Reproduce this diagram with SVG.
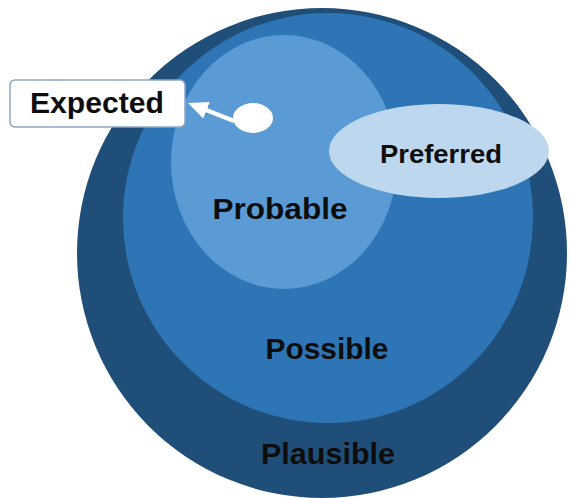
<svg xmlns="http://www.w3.org/2000/svg" width="570" height="498" viewBox="0 0 570 498">
  <style>
    .lbl { font-family: "Liberation Sans", Arial, sans-serif; font-weight: bold; fill: #0d0d0d; text-anchor: middle; }
  </style>
  <defs>
    <marker id="arrowhead" viewBox="0 0 20 18" refX="20" refY="9" markerUnits="userSpaceOnUse" markerWidth="20" markerHeight="18" orient="auto">
      <path d="M0,0 L20,9 L0,18 Z" fill="#ffffff"/>
    </marker>
  </defs>
  <rect width="570" height="498" fill="#ffffff"/>

  <g id="plausible">
    <circle cx="322" cy="253" r="245" fill="#1f4e79"/>
    <text class="lbl" x="328" y="464" font-size="29" textLength="134" lengthAdjust="spacingAndGlyphs">Plausible</text>
  </g>

  <g id="possible">
    <circle cx="328" cy="218" r="205" fill="#2e75b6"/>
    <text class="lbl" x="327" y="359" font-size="29" textLength="123" lengthAdjust="spacingAndGlyphs">Possible</text>
  </g>

  <g id="probable">
    <ellipse cx="284" cy="162" rx="113" ry="127" fill="#5b9bd5"/>
    <text class="lbl" x="280" y="219" font-size="29" textLength="135" lengthAdjust="spacingAndGlyphs">Probable</text>
  </g>

  <g id="preferred">
    <ellipse cx="439" cy="151" rx="110" ry="47" fill="#bdd7ee"/>
    <text class="lbl" x="441" y="163" font-size="26" textLength="122" lengthAdjust="spacingAndGlyphs">Preferred</text>
  </g>

  <g id="expected-dot">
    <ellipse cx="253" cy="118" rx="20" ry="15" fill="#ffffff"/>
  </g>

  <g id="expected">
    <rect x="10" y="80" width="175" height="47" rx="5" fill="#ffffff" stroke="#8ea5c4" stroke-width="1.5"/>
    <text class="lbl" x="97" y="113" font-size="29" textLength="134" lengthAdjust="spacingAndGlyphs">Expected</text>
  </g>

  <g id="connectors">
    <line x1="234" y1="121" x2="196" y2="106" stroke="#ffffff" stroke-width="4.5"/>
    <line x1="234" y1="121" x2="188" y2="103" stroke="none" marker-end="url(#arrowhead)"/>
  </g>
</svg>
